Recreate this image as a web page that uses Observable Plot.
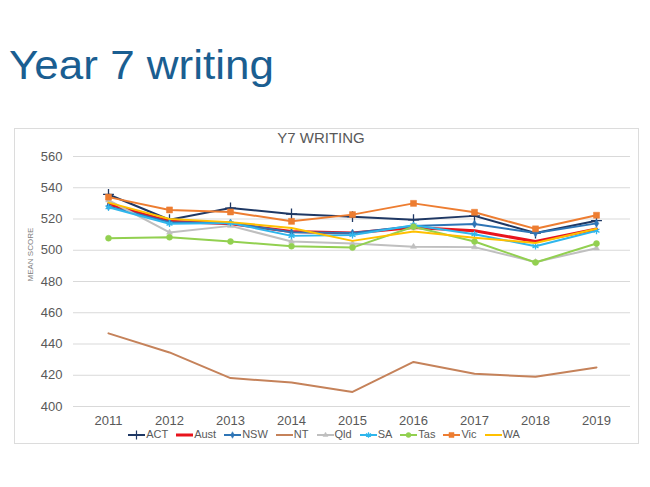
<!DOCTYPE html>
<html>
<head>
<meta charset="utf-8">
<script src="https://cdn.jsdelivr.net/npm/d3@7"></script>
<script src="https://cdn.jsdelivr.net/npm/@observablehq/plot@0.6"></script>
<style>
  body { margin: 0; background: #fff; font-family: "Liberation Sans", Arial, sans-serif; }
  #wrap { position: relative; width: 650px; height: 487px; overflow: hidden; background: #fff; }
  #heading { position: absolute; left: 9px; top: 45px; margin: 0; font-size: 40px; line-height: 40px; font-weight: normal; color: #1a5e91; transform: scaleX(1.1); transform-origin: left top; white-space: nowrap; }
  #box { position: absolute; left: 14px; top: 128px; width: 623px; height: 314px; border: 1px solid #dcdcdc; }
  #ctitle { position: absolute; left: 221px; width: 200px; top: 129px; text-align: center; font-size: 15px; line-height: 18px; color: #595959; }
  #chart { position: absolute; left: 0; top: 0; }
  #legend { position: absolute; left: 0; width: 648px; top: 428px; display: flex; justify-content: center; gap: 8px; font-size: 11px; line-height: 13px; color: #595959; }
  #legend .item { display: flex; align-items: center; gap: 1px; }
  #legend svg { display: block; }
</style>
</head>
<body>
<div id="wrap">
  <div id="box"></div>
  <h1 id="heading">Year 7 writing</h1>
  <div id="ctitle">Y7 WRITING</div>
  <div id="chart"></div>
  <div id="legend"></div>
</div>
<script>
// ---- data ----
const years = [2011, 2012, 2013, 2014, 2015, 2016, 2017, 2018, 2019];
const seriesNames = ["ACT", "Aust", "NSW", "NT", "Qld", "SA", "Tas", "Vic", "WA"];
const yTicks = [400, 420, 440, 460, 480, 500, 520, 540, 560];

const ACT  = [535.7, 519.5, 527.0, 523.2, 521.5, 519.5, 522.0, 511.0, 518.9];
const Aust = [529.5, 518.5, 517.0, 512.0, 511.0, 514.6, 512.5, 505.6, 513.6];
const NSW  = [528.0, 518.0, 517.5, 511.5, 511.0, 515.5, 516.8, 511.0, 517.2];
const NT   = [446.8, 434.6, 418.2, 415.4, 409.3, 428.5, 421.0, 419.0, 425.0];
const Qld  = [532.0, 511.4, 515.6, 505.6, 504.3, 502.3, 502.0, 492.5, 501.3];
const SA   = [527.5, 517.0, 517.5, 509.2, 509.7, 516.0, 510.3, 502.6, 512.5];
const Tas  = [507.7, 508.3, 505.6, 502.6, 501.7, 515.0, 505.6, 492.2, 504.3];
const Vic  = [534.0, 525.8, 524.5, 518.5, 522.8, 530.0, 524.3, 513.7, 522.4];
const WA   = [530.5, 520.0, 518.0, 514.2, 506.0, 512.0, 508.0, 504.7, 513.8];

const valuesBySeries = {ACT, Aust, NSW, NT, Qld, SA, Tas, Vic, WA};

// ---- styles ----
const styles = {
  ACT:  {color: "#1f3864", width: 2,   symbol: "plus",     r: 3.6, filled: false},
  Aust: {color: "#e8141c", width: 3,   symbol: null},
  NSW:  {color: "#2e75b6", width: 2,   symbol: "diamond",  r: 2.4, filled: true},
  NT:   {color: "#c5825a", width: 2,   symbol: null},
  Qld:  {color: "#bfbfbf", width: 2,   symbol: "triangle", r: 2.2, filled: true},
  SA:   {color: "#2fb6ec", width: 2,   symbol: "asterisk", r: 3.2, filled: false},
  Tas:  {color: "#92d050", width: 2,   symbol: "circle",   r: 3.0, filled: true},
  Vic:  {color: "#ed7d31", width: 2,   symbol: "square",   r: 3.4, filled: true},
  WA:   {color: "#ffc000", width: 2,   symbol: null}
};

const data = seriesNames.flatMap(s => years.map((y, i) => ({series: s, year: y, value: valuesBySeries[s][i]})));

const marks = [
  Plot.ruleY(yTicks, {stroke: "#d9d9d9", strokeWidth: 1}),
  Plot.axisY({ticks: yTicks, tickSize: 0, tickPadding: 11, label: null}),
  Plot.axisX({tickSize: 0, tickPadding: 9, label: null, tickFormat: d => String(d)}),
  Plot.text(["MEAN SCORE"], {frameAnchor: "left", rotate: -90, dx: -43, fontSize: 8, fill: "#808080"})
];

for (const s of seriesNames) {
  const st = styles[s];
  const rows = data.filter(d => d.series === s);
  marks.push(Plot.line(rows, {x: "year", y: "value", stroke: st.color, strokeWidth: st.width, strokeLinejoin: "round", strokeLinecap: "round"}));
  if (st.symbol) {
    marks.push(Plot.dot(rows, {
      x: "year", y: "value", symbol: () => st.symbol, r: st.r,
      fill: st.filled ? st.color : "none",
      stroke: st.color, strokeWidth: st.filled ? 0.5 : 1.3
    }));
  }
}

const chart = Plot.plot({
  width: 650,
  height: 487,
  marginLeft: 73,
  marginRight: 20,
  marginTop: 156,
  marginBottom: 81,
  x: {type: "point", domain: years, padding: 0.5},
  y: {domain: [400, 560]},
  symbol: {type: "identity"},
  style: {background: "transparent", fontSize: "13px", fontFamily: "'Liberation Sans', Arial, sans-serif", color: "#595959"},
  marks
});
document.getElementById("chart").appendChild(chart);

// ---- legend ----
const symbolTypes = {plus: d3.symbolPlus, diamond: d3.symbolDiamond, triangle: d3.symbolTriangle, asterisk: d3.symbolAsterisk, circle: d3.symbolCircle, square: d3.symbolSquare};
const legend = d3.select("#legend");
for (const s of seriesNames) {
  const st = styles[s];
  const item = legend.append("div").attr("class", "item");
  const svg = item.append("svg").attr("width", 17).attr("height", 10);
  svg.append("line").attr("x1", 0).attr("x2", 17).attr("y1", 5).attr("y2", 5)
    .attr("stroke", st.color).attr("stroke-width", st.width);
  if (st.symbol) {
    svg.append("path")
      .attr("transform", "translate(8.5,5)")
      .attr("d", d3.symbol(symbolTypes[st.symbol], st.r * st.r * Math.PI * 0.7)())
      .attr("fill", st.filled ? st.color : "none")
      .attr("stroke", st.color)
      .attr("stroke-width", st.filled ? 0.5 : 1.2);
  }
  item.append("span").text(s);
}
</script>
</body>
</html>
